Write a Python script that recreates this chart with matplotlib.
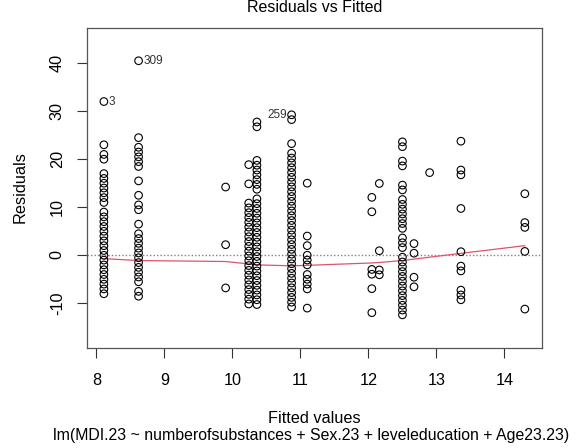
import matplotlib
matplotlib.use("Agg")
import matplotlib.pyplot as plt

plt.rcParams["font.family"] = ["Liberation Sans", "DejaVu Sans"]

# fitted value of each column, and the residuals in that column
fitted_levels = [8.11, 8.62, 9.90, 10.24, 10.36, 10.87, 11.10,
                 12.05, 12.16, 12.50, 12.67, 12.90, 13.36, 14.30]

res_811 = [31.89, 22.89, 20.89, 19.89, 16.89, 15.89, 14.89, 13.89, 12.89,
           11.89, 10.89, 8.89, 7.89, 6.89, 5.89, 4.89, 3.89, 2.89, 1.89,
           0.89, -0.11, -1.11, -2.11, -3.11, -4.11, -5.11, -6.11, -7.11,
           -8.11]
res_862 = [40.38, 24.38, 22.38, 21.38, 20.38, 19.38, 18.38, 15.38, 12.38,
           10.38, 9.38, 6.38, 4.38, 3.38, 2.38, 1.38, 0.38, -0.62, -1.62,
           -2.62, -3.62, -4.62, -5.62, -7.62, -8.62]
res_990 = [14.1, 2.1, -6.9]
res_1024 = [18.76, 14.76, 10.76, 9.76, 8.76, 7.76, 6.76, 5.76, 4.76, 3.76,
            2.76, 1.76, 0.76, -0.24, -1.24, -2.24, -3.24, -4.24, -5.24,
            -6.24, -7.24, -8.24, -9.24, -10.24]
res_1036 = [27.64, 26.64, 19.64, 18.64, 17.64, 16.64, 15.64, 14.64, 13.64,
            11.64, 10.64, 9.64, 8.64, 7.64, 6.64, 5.64, 4.64, 3.64, 2.64,
            1.64, 0.64, -0.36, -1.36, -2.36, -3.36, -4.36, -5.36, -6.36,
            -7.36, -8.36, -9.36, -10.36]
res_1087 = [29.13, 28.13, 23.13, 21.13, 20.13, 19.13, 18.13, 17.13, 16.13,
            15.13, 14.13, 13.13, 12.13, 11.13, 10.13, 9.13, 8.13, 7.13,
            6.13, 5.13, 4.13, 3.13, 2.13, 1.13, 0.13, -0.87, -1.87, -2.87,
            -3.87, -4.87, -5.87, -6.87, -7.87, -8.87, -9.87, -10.87]
res_1110 = [14.9, 3.9, 1.9, -0.1, -1.1, -2.1, -4.1, -5.1, -6.1, -7.1, -11.1]
res_1205 = [11.95, 8.95, -3.05, -4.05, -7.05, -12.05]
res_1216 = [14.84, 0.84, -3.16, -4.16]
res_1250 = [23.5, 22.5, 19.5, 18.5, 14.5, 13.5, 11.5, 10.5, 9.5, 8.5, 7.5,
            6.5, 5.5, 3.5, 2.5, 1.5, -0.5, -1.5, -2.5, -3.5, -4.5, -5.5,
            -6.5, -7.5, -8.5, -9.5, -10.5, -11.5, -12.5]
res_1267 = [2.33, 0.33, -4.67, -6.67]
res_1290 = [17.1]
res_1336 = [23.64, 17.64, 16.64, 9.64, 0.64, -2.36, -3.36, -7.36, -8.36,
            -9.36]
res_1430 = [12.7, 6.7, 5.7, 0.7, -11.3]

residual_groups = [res_811, res_862, res_990, res_1024, res_1036, res_1087,
                   res_1110, res_1205, res_1216, res_1250, res_1267, res_1290,
                   res_1336, res_1430]

# smoother (red line)
smooth_x = [8.11, 8.62, 9.90, 10.24, 10.36, 10.87, 11.10, 12.05, 12.16,
            12.50, 12.67, 12.90, 13.36, 14.30]
smooth_y = [-0.8, -1.2, -1.4, -1.9, -2.1, -2.3, -2.2, -1.7, -1.6, -1.2,
            -0.9, -0.5, 0.3, 1.9]

# labelled observations: (id, fitted, residual, side)
outliers = [("3", 8.11, 31.89, "right"), ("309", 8.62, 40.38, "right"),
            ("259", 10.87, 29.13, "left")]

x_ticks = [8, 9, 10, 11, 12, 13, 14]
y_ticks = [-10, 0, 10, 20, 30, 40]

fig = plt.figure(figsize=(5.79, 4.48), dpi=100)
ax = fig.add_axes([0.1503, 0.2243, 0.9356 - 0.1503, 0.9386 - 0.2243])

xs, ys = [], []
for f, grp in zip(fitted_levels, residual_groups):
    xs += [f] * len(grp)
    ys += grp
ax.scatter(xs, ys, s=30, facecolors="none", edgecolors="black",
           linewidths=0.8, zorder=3)

ax.axhline(0, color="gray", linestyle=(0, (1, 1.5)), linewidth=1, zorder=1)
ax.plot(smooth_x, smooth_y, color="#DF536B", linewidth=0.9, zorder=2)

for lab, fx, ry, side in outliers:
    if side == "right":
        ax.annotate(lab, (fx, ry), xytext=(3.5, 0), textcoords="offset points",
                    ha="left", va="center", fontsize=8.5, color="#333333")
    else:
        ax.annotate(lab, (fx, ry), xytext=(-3.5, 0), textcoords="offset points",
                    ha="right", va="center", fontsize=8.5, color="#333333")

ax.set_xlim(7.862, 14.548)
ax.set_ylim(-19.3, 47.3)
ax.set_xticks(x_ticks)
ax.set_yticks(y_ticks)
ax.set_xticklabels([str(t) for t in x_ticks])
ax.set_yticklabels([str(t) for t in y_ticks], rotation=90, va="center")
ax.tick_params(length=7, width=0.8, labelsize=11.7, color="#333333")
ax.tick_params(axis="x", pad=11)
ax.tick_params(axis="y", pad=9)
for sp in ax.spines.values():
    sp.set_color("#555555")
    sp.set_linewidth(0.9)

fig.text(0.5435, 1 - 8 / 448, "Residuals vs Fitted", ha="center",
         va="center", fontsize=11.5)
fig.text(20 / 579, 0.5815, "Residuals", rotation=90, ha="center",
         va="center", fontsize=11.7)
fig.text(0.5435, 1 - 418 / 448, "Fitted values", ha="center", va="center",
         fontsize=11.7)
fig.text(0.538, 1 - 435 / 448,
         "lm(MDI.23 ~ numberofsubstances + Sex.23 + leveleducation + Age23.23)",
         ha="center", va="center", fontsize=11.4)

fig.savefig("out.png", dpi=100)
